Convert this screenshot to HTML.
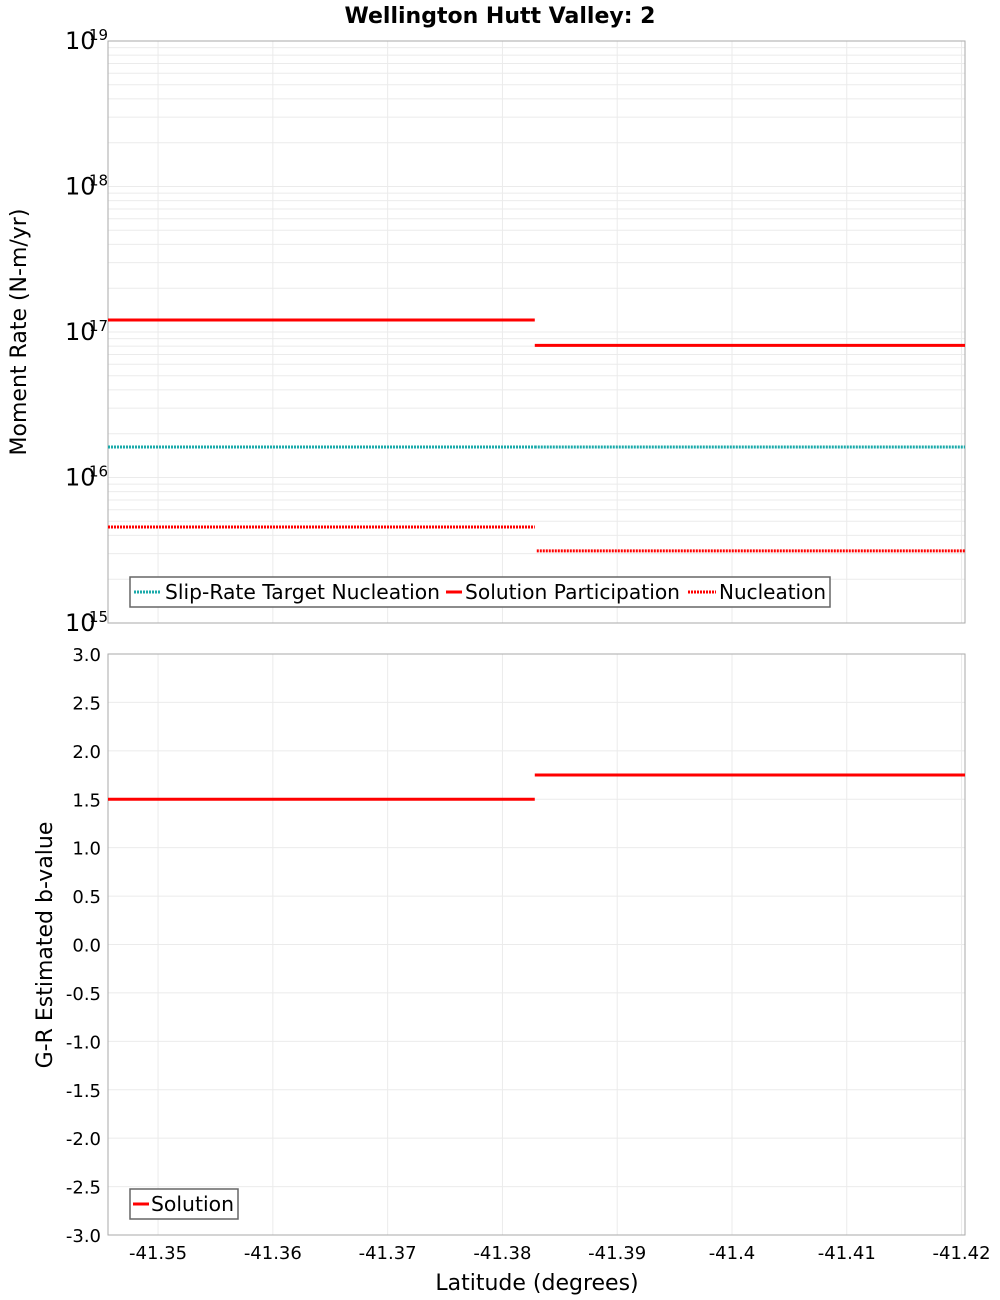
<!DOCTYPE html>
<html><head><meta charset="utf-8"><style>
body{margin:0;background:#fff;font-family:"DejaVu Sans","Liberation Sans",sans-serif}
svg{display:block}
</style></head><body>
<svg id="c" width="1000" height="1300" xmlns="http://www.w3.org/2000/svg" font-family="DejaVu Sans, Liberation Sans, sans-serif">
<text x="500" y="23" text-anchor="middle" font-size="22" font-weight="bold">Wellington Hutt Valley: 2</text>
<g id="topPanel"></g>
<g id="botPanel"></g>
</svg>
<script>
const sectionStarts = [-41.34564, -41.38282];
const sectionEnds = [-41.38282, -41.42030];
const participation = [1.21e17, 8.1e16];
const nucleation = [4.57e15, 3.13e15];
const slipTarget = [1.62e16, 1.62e16];
const bValues = [1.5, 1.75];
const xTicks = [-41.35, -41.36, -41.37, -41.38, -41.39, -41.4, -41.41, -41.42];
const yLogTicks = [15, 16, 17, 18, 19];
const bTicks = [-3, -2.5, -2, -1.5, -1, -0.5, 0, 0.5, 1, 1.5, 2, 2.5, 3];

const NS = "http://www.w3.org/2000/svg";
const L = 108, R = 965, T1 = 41, B1 = 623, T2 = 654, B2 = 1235;
const xMin = -41.34564, xMax = -41.42030;
function X(v){ return L + (v - xMin) / (xMax - xMin) * (R - L); }
function Y1(v){ const lv = Math.log10(v); return B1 - (lv - 15) / 4 * (B1 - T1); }
function Y2(v){ return B2 - (v + 3) / 6 * (B2 - T2); }
function mk(parent, tag, attrs, text){
  const e = document.createElementNS(NS, tag);
  for (const k in attrs) e.setAttribute(k, attrs[k]);
  if (text !== undefined) e.textContent = text;
  parent.appendChild(e); return e;
}
const topG = document.getElementById('topPanel'), botG = document.getElementById('botPanel');

for (let d = 15; d < 19; d++) for (let m = 1; m <= 9; m++) {
  const y = Y1(m * Math.pow(10, d));
  const g = mk(topG, 'line', {x1:L, x2:R, y1:y, y2:y, stroke:'#ebebeb', 'stroke-width':1});
  
  
}
for (const t of xTicks) {
  const g1 = mk(topG, 'line', {x1:X(t), x2:X(t), y1:T1, y2:B1, stroke:'#ebebeb'});
  
  
  const g2 = mk(botG, 'line', {x1:X(t), x2:X(t), y1:T2, y2:B2, stroke:'#ebebeb'});
  
  
  const lb = mk(botG, 'text', {x:X(t), y:1259, 'text-anchor':'middle', 'font-size':18}, String(t));
  
  
}
for (const t of bTicks) {
  const y = Y2(t);
  const g = mk(botG, 'line', {x1:L, x2:R, y1:y, y2:y, stroke:'#ebebeb'});
  
  
  const lb = mk(botG, 'text', {x:101, y:y+7, 'text-anchor':'end', 'font-size':18}, t.toFixed(1));
  
  
}
for (const d of yLogTicks) {
  const y = Y1(Math.pow(10, d));
  const lb = mk(topG, 'text', {x:65, y:y+8, 'font-size':24}, '10');
  
  
  const sp = mk(topG, 'text', {x:89, y:y-1, 'font-size':15}, String(d));
  
  
}
const f1 = mk(topG, 'rect', {x:L, y:T1, width:R-L, height:B1-T1, fill:'none', stroke:'#aaa'});


const f2 = mk(botG, 'rect', {x:L, y:T2, width:R-L, height:B2-T2, fill:'none', stroke:'#aaa'});



for (let i = 0; i < sectionStarts.length; i++) {
  const x1 = X(sectionStarts[i]), x2 = X(sectionEnds[i]);
  const s = mk(topG, 'line', {x1:x1, x2:x2, y1:Y1(slipTarget[i]), y2:Y1(slipTarget[i]), stroke:'#1aaaaa', 'stroke-width':3, 'stroke-dasharray':'2,1'});
  
  
  const p = mk(topG, 'line', {x1:x1, x2:x2, y1:Y1(participation[i]), y2:Y1(participation[i]), stroke:'#f00', 'stroke-width':3});
  
  
  const n = mk(topG, 'line', {x1:x1+(i?2:0), x2:x2, y1:Y1(nucleation[i]), y2:Y1(nucleation[i]), stroke:'#f00', 'stroke-width':3, 'stroke-dasharray':'2,1'});
  
  
  const b = mk(botG, 'line', {x1:x1, x2:x2, y1:Y2(bValues[i]), y2:Y2(bValues[i]), stroke:'#f00', 'stroke-width':3});
  
  
}
</script>
<svg style="position:absolute;left:0;top:0" width="1000" height="1300" xmlns="http://www.w3.org/2000/svg" font-family="DejaVu Sans, Liberation Sans, sans-serif">
<g>
<rect x="130" y="577" width="700" height="30" fill="#fff" stroke="#666" stroke-width="1.5"/>
<line x1="134" x2="160" y1="592" y2="592" stroke="#1aaaaa" stroke-width="3" stroke-dasharray="2,1"/>
<text x="165" y="599" font-size="20" textLength="275" lengthAdjust="spacingAndGlyphs">Slip-Rate Target Nucleation</text>
<line x1="446" x2="462" y1="592" y2="592" stroke="#f00" stroke-width="3"/>
<text x="465" y="599" font-size="20" textLength="215" lengthAdjust="spacingAndGlyphs">Solution Participation</text>
<line x1="688" x2="716" y1="592" y2="592" stroke="#f00" stroke-width="3" stroke-dasharray="2,1"/>
<text x="719" y="599" font-size="20" textLength="107" lengthAdjust="spacingAndGlyphs">Nucleation</text>
</g>
<g>
<rect x="130" y="1189" width="108" height="30" fill="#fff" stroke="#666" stroke-width="1.5"/>
<line x1="133" x2="149" y1="1204" y2="1204" stroke="#f00" stroke-width="3"/>
<text x="151" y="1211" font-size="20" textLength="83" lengthAdjust="spacingAndGlyphs">Solution</text>
</g>
<text transform="translate(26,332) rotate(-90)" text-anchor="middle" font-size="22">Moment Rate (N-m/yr)</text>
<text transform="translate(52,945) rotate(-90)" text-anchor="middle" font-size="22">G-R Estimated b-value</text>
<text x="537" y="1290" text-anchor="middle" font-size="22">Latitude (degrees)</text>
</svg>
</body></html>
